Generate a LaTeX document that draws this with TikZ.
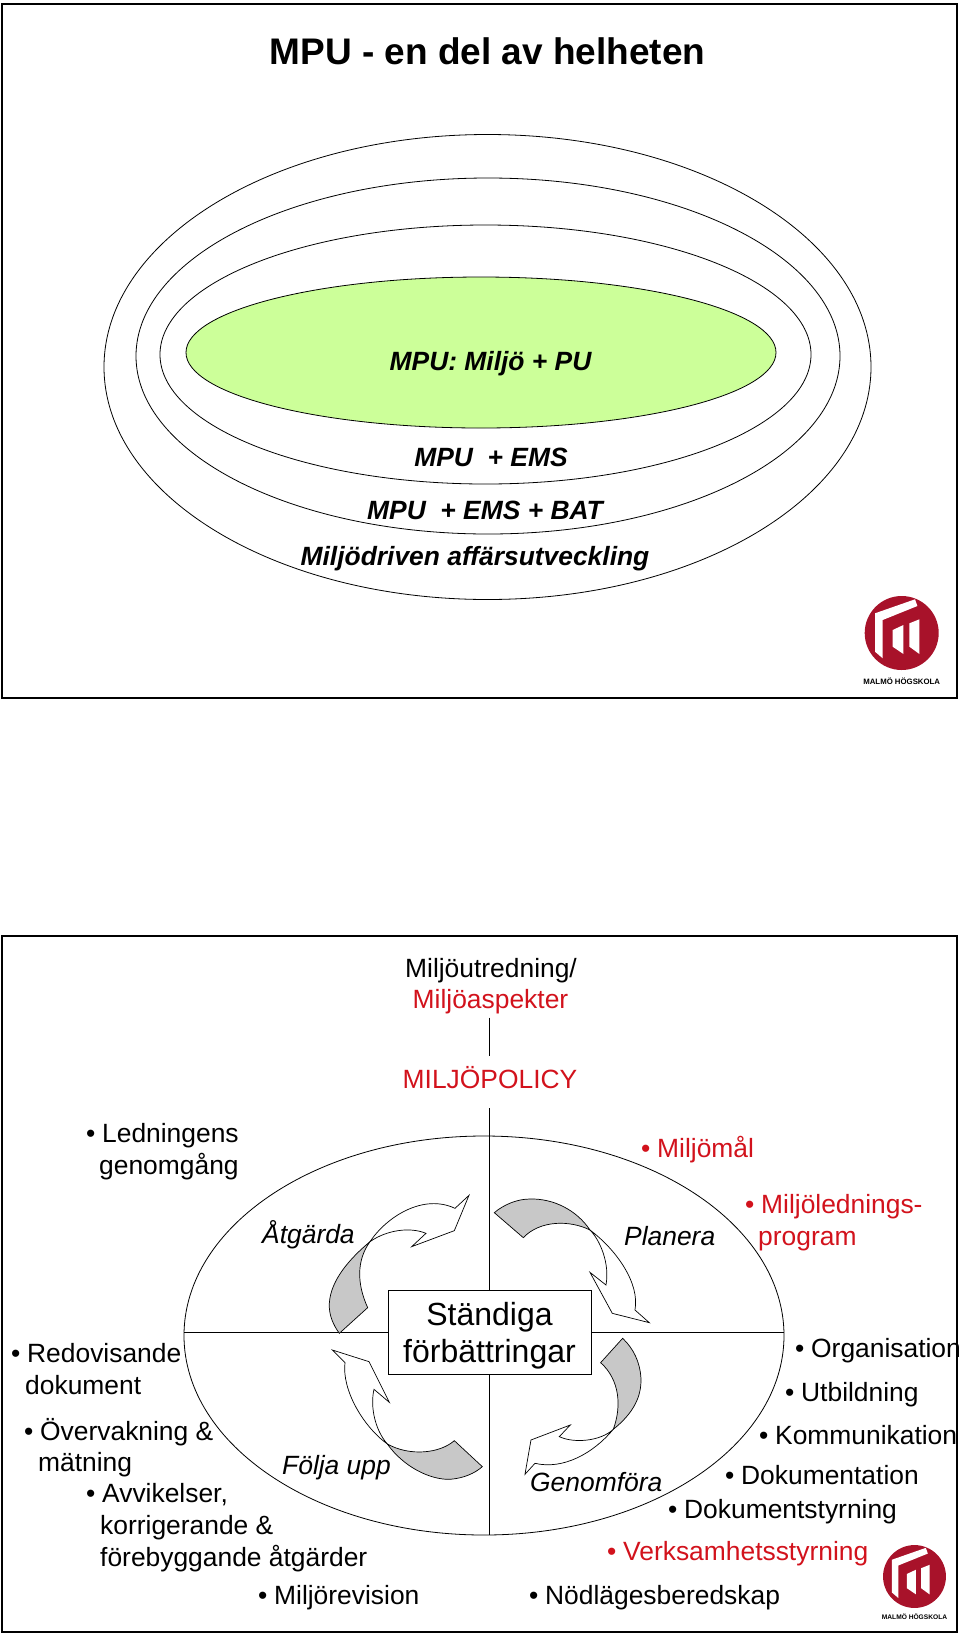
\documentclass[tikz,border=0pt]{standalone}
\usepackage{fontspec}
\setmainfont{Liberation Sans}
\usetikzlibrary{shapes.geometric}
\definecolor{mpugreen}{HTML}{CCFF99}
\definecolor{mpured}{HTML}{D2121C}
\definecolor{logored}{HTML}{A8122A}
\definecolor{arrowgray}{HTML}{C8C8C8}
\tikzset{
  framebox/.style={draw, line width=2.6pt},
  oval/.style={draw, ellipse, inner sep=0pt, line width=0.8pt},
  title/.style={anchor=base, inner sep=0pt, font=\fontsize{37}{37}\selectfont\bfseries},
  layer/.style={anchor=base, inner sep=0pt, font=\fontsize{26.4}{32}\selectfont\bfseries\itshape},
  item/.style={anchor=base west, inner sep=0pt, font=\fontsize{26.4}{32}\selectfont},
  phase/.style={anchor=base west, inner sep=0pt, font=\fontsize{26.4}{32}\selectfont\itshape},
  arrowpart/.style={draw, line width=0.7pt, line join=miter}
}
\newcommand{\bul}{\makebox[16pt][l]{•}}
\newcommand{\logomark}[4]{
  \begin{scope}[shift={(#1,#2)}, scale=#3]
    \fill[logored] (0,0) circle (37);
    \fill[white] (-26.7,18.7) -- (-26.7,-19.7) -- (13.3,-33.7) -- (15.7,-27) -- (-19,-13) -- (-19,25.3) -- cycle;
    \fill[white] (-9,-3) -- (1.7,-8) -- (1.7,21) -- (-9,13.7) -- cycle;
    \fill[white] (7.7,-9.7) -- (17.7,-13.7) -- (17.7,21) -- (7.7,13.7) -- cycle;
    \node[inner sep=0pt, anchor=base, transform shape, font=\fontsize{7.8}{8}\selectfont\bfseries] (#4) at (0,51) {MALMÖ HÖGSKOLA};
  \end{scope}
}
\begin{document}
\begin{tikzpicture}[x=1pt,y=-1pt]
\useasboundingbox (0,0) rectangle (960,1634);
\draw[framebox] (2,4) rectangle (957,698);
\node[title] (heading) at (487.5,64) {MPU - en del av helheten};
\node[oval, minimum width=767pt, minimum height=465pt] (outer) at (487.5,367) {};
\node[oval, minimum width=704pt, minimum height=356pt] (middle) at (488,356) {};
\node[oval, minimum width=651pt, minimum height=259pt] (inner) at (485.5,354.5) {};
\node[oval, fill=mpugreen, minimum width=590pt, minimum height=151pt] (core) at (481,352.5) {};
\node[layer] (corelabel) at (490.5,370) {MPU: Miljö + PU};
\node[layer] (innerlabel) at (491,466) {MPU\ \ + EMS};
\node[layer] (middlelabel) at (485,519) {MPU\ \ + EMS + BAT};
\node[layer] (outerlabel) at (475,565) {Miljödriven affärsutveckling};
\logomark{901.7}{633}{1}{logotop}
\draw[framebox] (2,936) rectangle (957,1632);
\node[oval, minimum width=600pt, minimum height=399pt] (cycle) at (484,1335.5) {};
\node[draw, line width=0.9pt, minimum width=203pt, minimum height=84pt, inner sep=0pt] (improve) at (489.5,1332) {};
\node[inner sep=0pt, align=center, font=\fontsize{32}{37}\selectfont] (improvelabel) at (489.5,1336) {Ständiga\\förbättringar};
\node[inner sep=0pt, anchor=base] (survey) at (491,977) {\fontsize{26.4}{32}\selectfont Miljöutredning/};
\node[inner sep=3.3pt, anchor=south, text=mpured, font=\fontsize{26.4}{32}\selectfont] (aspects) at (490.5,1017.5) {Miljöaspekter};
\node[inner ysep=10pt, inner xsep=0pt, anchor=base, text=mpured, font=\fontsize{26.4}{32}\selectfont] (policy) at (490,1088) {MILJÖPOLICY};
\draw (improve.north |- aspects.south) -- (improve.north |- policy.north);
\draw[shorten <=10pt] (improve.north |- policy.south) -- (improve.north);
\draw (improve.south) -- (improve.south |- cycle.south);
\draw (improve.west) -- (improve.west -| cycle.west);
\draw (improve.east) -- (improve.east -| cycle.east);
\begin{scope}[shift={(300,1170)}, x=0.3333pt, y=-0.3333pt]
\path[arrowpart, fill=arrowgray] (118,490) -- (203,413) .. controls (170,340) and (170,270) .. (210,215) .. controls (150,265) and (92,330) .. (88,400) .. controls (86,435) and (100,465) .. (118,490) -- cycle;
\path[arrowpart, fill=white] (210,215) .. controls (260,140) and (370,70) .. (465,115) -- (507,76) -- (463,182) -- (335,230) -- (378,190) .. controls (330,170) and (260,180) .. (210,215) -- cycle;
\path[arrowpart, fill=arrowgray] (583,128) -- (670,203) .. controls (720,150) and (810,150) .. (870,180) .. controls (830,120) and (760,85) .. (690,87) .. controls (650,87) and (610,105) .. (583,128) -- cycle;
\path[arrowpart, fill=white] (870,180) .. controls (900,210) and (930,280) .. (918,345) -- (870,307) -- (937,430) -- (1048,458) -- (1005,420) .. controls (1020,340) and (950,240) .. (870,180) -- cycle;
\path[arrowpart, fill=arrowgray] (968,505) -- (902,578) .. controls (960,630) and (965,710) .. (940,778) .. controls (1000,730) and (1025,680) .. (1023,625) .. controls (1020,575) and (1000,535) .. (968,505) -- cycle;
\path[arrowpart, fill=white] (940,778) .. controls (900,815) and (820,820) .. (778,800) -- (811,765) -- (693,810) -- (675,913) -- (705,880) .. controls (790,900) and (880,850) .. (940,778) -- cycle;
\path[arrowpart, fill=arrowgray] (547,890) -- (463,812) .. controls (420,850) and (330,860) .. (262,822) .. controls (310,890) and (390,930) .. (450,928) .. controls (490,925) and (525,910) .. (547,890) -- cycle;
\path[arrowpart, fill=white] (262,822) .. controls (225,780) and (210,710) .. (222,658) -- (268,697) -- (207,575) -- (97,540) -- (135,578) .. controls (125,660) and (190,770) .. (262,822) -- cycle;
\end{scope}
\node[phase] (act) at (262,1243) {Åtgärda};
\node[phase] (plan) at (624,1245) {Planera};
\node[phase] (check) at (282,1474) {Följa upp};
\node[phase] (do) at (530,1491) {Genomföra};
\node[item] (review) at (86,1142) {\bul Ledningens};
\node[item] (reviewb) at (99,1174) {genomgång};
\node[item, text=mpured] (goals) at (641,1157) {\bul Miljömål};
\node[item, text=mpured] (program) at (745,1213) {\bul Miljölednings-};
\node[item, text=mpured] (programb) at (758,1245) {program};
\node[item] (reports) at (11,1362) {\bul Redovisande};
\node[item] (reportsb) at (25,1394) {dokument};
\node[item] (monitor) at (24,1440) {\bul Övervakning \&};
\node[item] (monitorb) at (38,1471) {mätning};
\node[item] (deviation) at (86,1502) {\bul Avvikelser,};
\node[item] (deviationb) at (100,1534) {korrigerande \&};
\node[item] (deviationc) at (100,1566) {förebyggande åtgärder};
\node[item] (audit) at (258,1604) {\bul Miljörevision};
\node[item] (organisation) at (795,1357) {\bul Organisation};
\node[item] (training) at (785,1401) {\bul Utbildning};
\node[item] (communication) at (759,1444) {\bul Kommunikation};
\node[item] (documentation) at (725,1484) {\bul Dokumentation};
\node[item] (control) at (668,1518) {\bul Dokumentstyrning};
\node[item, text=mpured] (management) at (607,1560) {\bul Verksamhetsstyrning};
\node[item] (emergency) at (529,1604) {\bul Nödlägesberedskap};
\logomark{914.5}{1576.5}{0.85}{logobottom}
\end{tikzpicture}
\end{document}
